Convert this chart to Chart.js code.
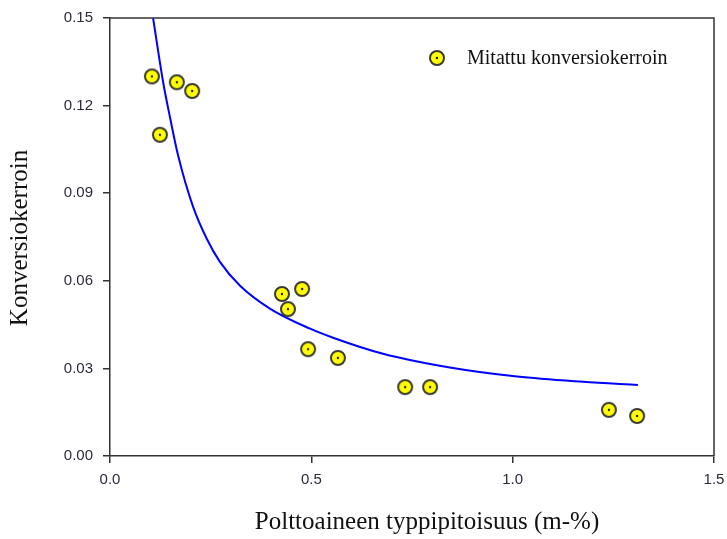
<!DOCTYPE html>
<html>
<head>
<meta charset="utf-8">
<script src="https://cdn.jsdelivr.net/npm/chart.js@4.4.1/dist/chart.umd.min.js"></script>
<style>
  html, body { margin: 0; padding: 0; background: #fff; }
  #wrap { width: 727px; height: 539px; }
</style>
</head>
<body>
<div id="wrap"><canvas id="chart" width="727" height="539"></canvas></div>
<script>
// measured points
var measX = [0.104, 0.124, 0.166, 0.204, 0.427, 0.442, 0.477, 0.492, 0.566, 0.733, 0.795, 1.239, 1.309];
var measY = [0.130, 0.110, 0.128, 0.125, 0.0555, 0.0503, 0.0572, 0.0366, 0.0336, 0.0236, 0.0236, 0.0158, 0.0137];

// fitted curve
var fitX = [0.107, 0.132, 0.149, 0.169, 0.206, 0.240, 0.273, 0.323, 0.397, 0.497, 0.554, 0.678, 0.844, 1.011, 1.175, 1.311];
var fitY = [0.150, 0.128, 0.116, 0.103, 0.0855, 0.0745, 0.0665, 0.0583, 0.0505, 0.0436, 0.0405, 0.0350, 0.0303, 0.0272, 0.0254, 0.0243];

var xTicks = [0, 0.5, 1.0, 1.5];
var yTicks = [0, 0.03, 0.06, 0.09, 0.12, 0.15];

var legendLabel = 'Mitattu konversiokerroin';
var xTitle = 'Polttoaineen typpipitoisuus (m-%)';
var yTitle = 'Konversiokerroin';

// yellow marker with dark ring and centre dot
function makeMarker() {
    var c = document.createElement('canvas');
    c.width = 18; c.height = 18;
    var g = c.getContext('2d');
    g.beginPath();
    g.arc(9, 9, 7, 0, Math.PI * 2);
    g.fillStyle = '#ffff00';
    g.fill();
    g.lineWidth = 2;
    g.strokeStyle = '#3a3a30';
    g.stroke();
    g.beginPath();
    g.arc(9, 9, 1.2, 0, Math.PI * 2);
    g.fillStyle = '#222';
    g.fill();
    return c;
}
var marker = makeMarker();

var decor = {
    id: 'decor',
    afterDraw: function (chart) {
        var ctx = chart.ctx, a = chart.chartArea;
        ctx.save();
        // box
        ctx.strokeStyle = '#333';
        ctx.lineWidth = 1.5;
        ctx.beginPath();
        ctx.moveTo(a.left, a.top);
        ctx.lineTo(a.right, a.top);
        ctx.lineTo(a.right, a.bottom);
        ctx.stroke();
        // legend
        ctx.drawImage(marker, 428, 49);
        ctx.fillStyle = '#111';
        ctx.font = '20px "Liberation Serif"';
        ctx.textBaseline = 'middle';
        ctx.textAlign = 'left';
        ctx.fillText(legendLabel, 467, 59);
        // axis titles
        ctx.font = '25px "Liberation Serif"';
        ctx.textAlign = 'center';
        ctx.fillText(xTitle, 427, 522);
        ctx.translate(20, 238);
        ctx.rotate(-Math.PI / 2);
        ctx.fillText(yTitle, 0, 0);
        ctx.restore();
    }
};

var ctx = document.getElementById('chart').getContext('2d');
new Chart(ctx, {
    type: 'scatter',
    data: {
        datasets: [{
            label: legendLabel,
            data: measX.map(function (x, i) { return { x: x, y: measY[i] }; }),
            pointStyle: marker,
            order: 1
        }, {
            type: 'line',
            label: 'fit',
            data: fitX.map(function (x, i) { return { x: x, y: fitY[i] }; }),
            borderColor: '#0000ff',
            borderWidth: 2,
            pointRadius: 0,
            fill: false,
            cubicInterpolationMode: 'monotone',
            order: 2
        }]
    },
    options: {
        responsive: false,
        animation: false,
        layout: { padding: { left: 0, right: 13, top: 18, bottom: 0 } },
        plugins: { legend: { display: false }, tooltip: { enabled: false } },
        scales: {
            x: {
                type: 'linear',
                min: 0, max: 1.5,
                afterFit: function (s) { s.height = 83; s.paddingLeft = 0; s.paddingRight = 0; },
                afterBuildTicks: function (s) { s.ticks = xTicks.map(function (v) { return { value: v }; }); },
                ticks: {
                    color: '#2b2b3b',
                    font: { family: '"Liberation Sans"', size: 15 },
                    padding: 8,
                    callback: function (v) { return v.toFixed(1); }
                },
                grid: { drawOnChartArea: false, tickLength: 7, color: '#333', lineWidth: 1.5 },
                border: { color: '#333', width: 1.5 }
            },
            y: {
                type: 'linear',
                min: 0, max: 0.15,
                afterFit: function (s) { s.width = 110; s.paddingTop = 0; s.paddingBottom = 0; },
                afterBuildTicks: function (s) { s.ticks = yTicks.map(function (v) { return { value: v }; }); },
                ticks: {
                    color: '#2b2b3b',
                    font: { family: '"Liberation Sans"', size: 15 },
                    padding: 10,
                    callback: function (v) { return v.toFixed(2); }
                },
                grid: { drawOnChartArea: false, tickLength: 7, color: '#333', lineWidth: 1.5 },
                border: { color: '#333', width: 1.5 }
            }
        }
    },
    plugins: [decor]
});
</script>
</body>
</html>
